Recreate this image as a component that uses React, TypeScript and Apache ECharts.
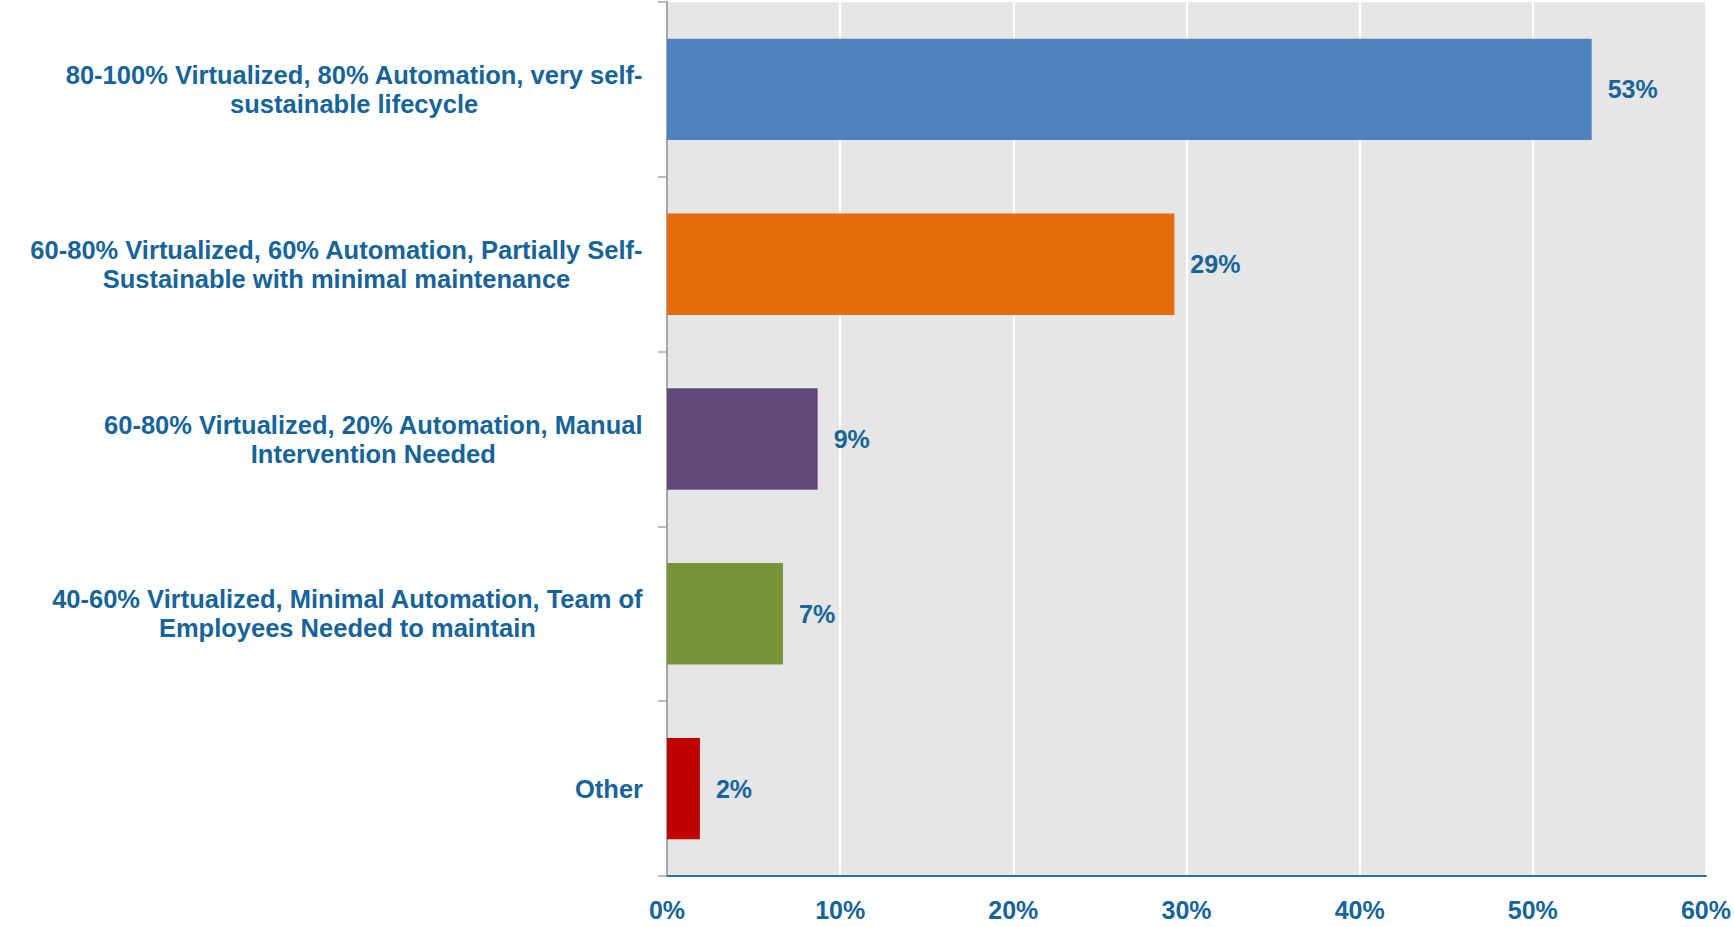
import React, { useEffect, useRef } from "react";
import * as echarts from "echarts";

const categories: string[] = [
  "80-100% Virtualized, 80% Automation, very self-\nsustainable lifecycle",
  "60-80% Virtualized, 60% Automation, Partially Self-\nSustainable with minimal maintenance",
  "60-80% Virtualized, 20% Automation, Manual\nIntervention Needed",
  "40-60% Virtualized, Minimal Automation, Team of\nEmployees Needed to maintain",
  "Other",
];
const values: number[] = [53.4, 29.3, 8.7, 6.7, 1.9];
const barColors: string[] = ["#4f81bd", "#e46c0a", "#604a7b", "#77933c", "#c00000"];
const xTicks = { min: 0, max: 60, interval: 10 };

const TEXT = "#17649a";
const FONT = "'Liberation Sans', Arial, sans-serif";

export default function App() {
  const ref = useRef<HTMLDivElement>(null);
  useEffect(() => {
    if (!ref.current) return;
    const chart = echarts.init(ref.current, null, { renderer: "svg" });
    chart.setOption({
      animation: false,
      grid: {
        left: 667,
        right: 22,
        top: 2,
        bottom: 51,
        show: true,
        backgroundColor: "#e6e6e6",
        borderWidth: 0,
      },
      xAxis: {
        type: "value",
        min: xTicks.min,
        max: xTicks.max,
        interval: xTicks.interval,
        axisLine: { show: true, lineStyle: { color: "#2a73a6", width: 2 } },
        axisTick: { show: false },
        splitLine: { show: true, lineStyle: { color: "#ffffff", width: 2 } },
        axisLabel: {
          formatter: "{value}%",
          color: TEXT,
          fontSize: 25,
          fontWeight: "bold",
          fontFamily: FONT,
          margin: 21,
        },
      },
      yAxis: {
        type: "category",
        data: categories,
        inverse: true,
        axisLine: { show: true, lineStyle: { color: "#a6a6a6", width: 2 } },
        axisTick: { show: true, length: 9, lineStyle: { color: "#a6a6a6", width: 1.5 } },
        splitLine: { show: false },
        axisLabel: {
          interval: 0,
          align: "right",
          margin: 24,
          formatter: (v: string) =>
            v
              .split("\n")
              .map((l) => `{c|${l}}`)
              .join("\n"),
          rich: {
            c: {
              align: "center",
              color: TEXT,
              fontSize: 25.5,
              fontWeight: "bold",
              fontFamily: FONT,
              lineHeight: 29,
            },
          },
        },
      },
      series: [
        {
          type: "bar",
          barCategoryGap: "42%",
          data: values.map((v, i) => ({ value: v, itemStyle: { color: barColors[i] } })),
          label: {
            show: true,
            position: "right",
            distance: 16,
            formatter: (p: any) => `${Math.round(p.value)}%`,
            color: TEXT,
            fontSize: 25,
            fontWeight: "bold",
            fontFamily: FONT,
          },
        },
      ],
    });
    return () => chart.dispose();
  }, []);
  return (
    <div
      ref={ref}
      style={{ position: "absolute", left: 0, top: 0, width: 1734, height: 927 }}
    />
  );
}
